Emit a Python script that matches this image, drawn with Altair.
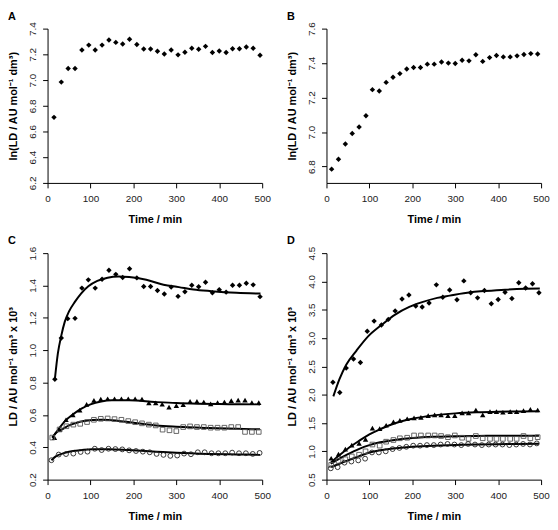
import altair as alt
import pandas as pd

# ---------------- data ----------------
A_time = [15, 32, 48, 64, 80, 96, 111, 127, 143, 159, 175, 191, 208, 224, 240, 256,
          272, 288, 304, 320, 336, 352, 368, 384, 400, 416, 431, 447, 463, 479, 495]
A_ln = [6.71, 6.984, 7.09, 7.09, 7.234, 7.272, 7.234, 7.272, 7.311, 7.293, 7.28, 7.318,
        7.277, 7.242, 7.242, 7.224, 7.203, 7.234, 7.196, 7.216, 7.247, 7.239, 7.262,
        7.214, 7.226, 7.214, 7.244, 7.244, 7.257, 7.247, 7.193]

B_time = [12, 28, 44, 60, 76, 92, 107, 123, 139, 155, 171, 187, 203, 219, 235, 251,
          268, 284, 300, 316, 332, 348, 364, 380, 396, 412, 428, 444, 460, 476, 492]
B_ln = [6.785, 6.842, 6.931, 6.992, 7.029, 7.095, 7.246, 7.238, 7.288, 7.318, 7.339,
        7.366, 7.375, 7.375, 7.394, 7.394, 7.406, 7.40, 7.398, 7.417, 7.413, 7.448,
        7.41, 7.432, 7.444, 7.436, 7.436, 7.442, 7.45, 7.455, 7.453]

# Panel C
C_dia_t = [17, 32, 47, 64, 80, 95, 111, 127, 143, 159, 175, 191, 208, 224, 240, 256,
           272, 288, 304, 320, 336, 352, 368, 384, 400, 416, 431, 447, 463, 479, 495]
C_dia = [0.82, 1.075, 1.195, 1.197, 1.384, 1.435, 1.384, 1.439, 1.494, 1.469, 1.449,
         1.504, 1.447, 1.394, 1.394, 1.369, 1.347, 1.39, 1.333, 1.361, 1.402, 1.392,
         1.42, 1.355, 1.374, 1.359, 1.402, 1.402, 1.414, 1.404, 1.331]
C_tri_t = [16, 28, 43, 59, 75, 91, 108, 124, 140, 156, 172, 188, 204, 220, 236, 252,
           267, 283, 300, 316, 332, 348, 364, 380, 396, 412, 428, 444, 460, 476, 492]
C_tri = [0.46, 0.51, 0.57, 0.60, 0.63, 0.665, 0.69, 0.698, 0.70, 0.70, 0.70, 0.70, 0.70,
         0.698, 0.675, 0.675, 0.666, 0.648, 0.658, 0.664, 0.684, 0.684, 0.68, 0.668,
         0.676, 0.68, 0.688, 0.692, 0.692, 0.676, 0.676]
C_sq_t = [11, 28, 44, 60, 76, 92, 108, 124, 140, 156, 172, 188, 204, 220, 236, 252,
          268, 284, 300, 316, 332, 348, 364, 380, 396, 412, 428, 444, 460, 476, 492]
C_sq = [0.46, 0.51, 0.53, 0.54, 0.545, 0.556, 0.57, 0.576, 0.578, 0.574, 0.57, 0.562,
        0.555, 0.548, 0.54, 0.535, 0.509, 0.505, 0.50, 0.525, 0.529, 0.525, 0.525,
        0.521, 0.521, 0.521, 0.525, 0.525, 0.495, 0.495, 0.495]
C_ci_t = [9, 26, 43, 60, 77, 93, 110, 126, 142, 158, 174, 190, 206, 222, 238, 254,
          270, 286, 302, 318, 334, 350, 366, 382, 398, 414, 430, 446, 462, 478, 494]
C_ci = [0.32, 0.355, 0.358, 0.361, 0.371, 0.373, 0.391, 0.383, 0.391, 0.389, 0.387,
        0.381, 0.377, 0.373, 0.369, 0.359, 0.353, 0.347, 0.349, 0.361, 0.357, 0.369,
        0.369, 0.363, 0.363, 0.363, 0.367, 0.363, 0.363, 0.359, 0.365]

C_fit_dia_t = [17, 24, 32, 40, 50, 64, 78, 95, 116, 140, 165, 190, 230, 270, 306, 340, 382, 440, 496]
C_fit_dia = [0.82, 0.98, 1.09, 1.175, 1.24, 1.30, 1.35, 1.395, 1.428, 1.448, 1.455,
             1.452, 1.435, 1.405, 1.39, 1.375, 1.365, 1.355, 1.35]
C_fit_tri_t = [11, 25, 40, 60, 80, 100, 125, 150, 190, 250, 300, 350, 400, 450, 495]
C_fit_tri = [0.46, 0.51, 0.56, 0.605, 0.64, 0.665, 0.683, 0.69, 0.69, 0.68, 0.673,
             0.669, 0.667, 0.666, 0.665]
C_fit_sq_t = [11, 20, 36, 50, 66, 85, 104, 125, 143, 165, 188, 220, 253, 300, 375, 440, 495]
C_fit_sq = [0.46, 0.49, 0.514, 0.535, 0.55, 0.562, 0.568, 0.57, 0.569, 0.563, 0.556,
            0.545, 0.535, 0.527, 0.519, 0.514, 0.511]
C_fit_ci_t = [9, 20, 36, 50, 66, 85, 104, 143, 188, 253, 300, 375, 440, 495]
C_fit_ci = [0.32, 0.345, 0.362, 0.372, 0.379, 0.385, 0.388, 0.388, 0.383, 0.373,
            0.366, 0.359, 0.356, 0.353]

# Panel D
D_dia_t = [15, 31, 46, 63, 79, 95, 111, 128, 144, 160, 176, 192, 208, 223, 239, 256,
           271, 287, 304, 320, 336, 352, 368, 384, 400, 416, 432, 448, 464, 480, 495]
D_dia = [2.22, 2.04, 2.47, 2.63, 2.57, 3.12, 3.30, 3.23, 3.33, 3.48, 3.69, 3.76, 3.565,
         3.55, 3.62, 3.94, 3.72, 3.85, 3.676, 4.01, 3.80, 3.71, 3.84, 3.606, 3.68, 3.81,
         3.70, 3.977, 3.885, 3.96, 3.80]
D_tri_t = [11, 28, 44, 59, 76, 91, 107, 124, 139, 156, 171, 188, 204, 220, 237, 252,
           267, 283, 299, 316, 331, 348, 364, 381, 396, 411, 428, 443, 459, 475, 492]
D_tri = [0.878, 0.95, 1.04, 1.11, 1.14, 1.21, 1.41, 1.40, 1.46, 1.52, 1.545, 1.575,
         1.59, 1.60, 1.63, 1.645, 1.645, 1.63, 1.63, 1.68, 1.68, 1.73, 1.645, 1.70, 1.70,
         1.69, 1.70, 1.70, 1.72, 1.74, 1.73]
D_sq_t = [11, 28, 44, 59, 76, 91, 107, 124, 139, 156, 171, 188, 204, 220, 237, 252,
          267, 283, 299, 316, 331, 348, 364, 381, 396, 411, 428, 443, 459, 475, 492]
D_sq = [0.76, 0.83, 0.86, 0.91, 0.94, 1.0, 1.12, 1.10, 1.17, 1.20, 1.23, 1.24, 1.28,
        1.28, 1.28, 1.28, 1.27, 1.25, 1.28, 1.24, 1.22, 1.27, 1.23, 1.22, 1.22, 1.22,
        1.22, 1.22, 1.27, 1.23, 1.25]
D_ci_t = [10, 26, 42, 58, 74, 90, 106, 122, 138, 154, 170, 186, 202, 218, 234, 250,
          266, 282, 298, 314, 330, 346, 362, 378, 394, 410, 426, 442, 458, 474, 490]
D_ci = [0.70, 0.72, 0.80, 0.82, 0.84, 0.87, 0.98, 0.98, 1.00, 1.04, 1.06, 1.08, 1.10,
        1.10, 1.11, 1.11, 1.12, 1.13, 1.12, 1.11, 1.13, 1.12, 1.11, 1.12, 1.12, 1.12,
        1.11, 1.12, 1.13, 1.12, 1.14]

D_fit_dia_t = [16, 30, 46, 70, 97, 128, 160, 193, 223, 258, 287, 335, 368, 416, 464, 497]
D_fit_dia = [1.97, 2.27, 2.53, 2.78, 3.03, 3.23, 3.415, 3.55, 3.635, 3.71, 3.75, 3.81,
             3.83, 3.855, 3.87, 3.875]
D_fit_tri_t = [10, 30, 50, 75, 100, 125, 150, 175, 200, 250, 300, 350, 400, 450, 495]
D_fit_tri = [0.80, 0.93, 1.05, 1.18, 1.30, 1.39, 1.47, 1.53, 1.575, 1.635, 1.67, 1.69,
             1.70, 1.705, 1.707]
D_fit_sq_t = [10, 30, 50, 75, 100, 125, 150, 200, 250, 300, 350, 400, 450, 495]
D_fit_sq = [0.78, 0.87, 0.95, 1.04, 1.11, 1.16, 1.19, 1.235, 1.258, 1.268, 1.272,
            1.274, 1.276, 1.277]
D_fit_ci_t = [10, 30, 50, 75, 100, 125, 150, 200, 250, 300, 350, 400, 450, 495]
D_fit_ci = [0.72, 0.78, 0.84, 0.91, 0.98, 1.02, 1.045, 1.08, 1.10, 1.11, 1.12, 1.125,
            1.13, 1.132]

X_TICKS = [0, 100, 200, 300, 400, 500]
A_TICKS = [6.2, 6.4, 6.6, 6.8, 7.0, 7.2, 7.4]
B_TICKS = [6.8, 7.0, 7.2, 7.4, 7.6]
C_TICKS = [0.2, 0.4, 0.6, 0.8, 1.0, 1.2, 1.4, 1.6]
D_TICKS = [0.5, 1.0, 1.5, 2.0, 2.5, 3.0, 3.5, 4.0, 4.5]

LN_TITLE = "ln(LD / AU mol\u207b\u00b9 dm\u00b3)"
LD_TITLE = "LD / AU mol\u207b\u00b9 dm\u00b3 x 10\u00b3"
X_TITLE = "Time / min"

FONT = "Liberation Sans"
W = 217
H1 = 156
H2 = 229


def encs(ydom, yticks, ytitle):
    x = alt.X("t:Q", scale=alt.Scale(domain=[0, 500], nice=False, zero=False),
              axis=alt.Axis(values=X_TICKS, format="d", title=X_TITLE, titlePadding=10,
                            labelPadding=6))
    y = alt.Y("v:Q", scale=alt.Scale(domain=ydom, nice=False, zero=False),
              axis=alt.Axis(values=yticks, format=".1f", labelAngle=270,
                            labelAlign="center", labelBaseline="bottom",
                            labelPadding=5, title=ytitle, titlePadding=9))
    return x, y


def pts(t, v, ydom, yticks, ytitle, shape, filled, size, color, sw=1.0):
    x, y = encs(ydom, yticks, ytitle)
    df = pd.DataFrame({"t": t, "v": v})
    if filled:
        m = alt.Chart(df).mark_point(shape=shape, filled=True, size=size,
                                     color=color, opacity=1)
    else:
        m = alt.Chart(df).mark_point(shape=shape, filled=False, size=size,
                                     stroke=color, strokeWidth=sw, opacity=1)
    return m.encode(x=x, y=y)


def fit(t, v, ydom, yticks, ytitle):
    x, y = encs(ydom, yticks, ytitle)
    df = pd.DataFrame({"t": t, "v": v})
    return alt.Chart(df).mark_line(color="black", strokeWidth=2,
                                   interpolate="monotone").encode(x=x, y=y)


def ttl(s):
    return alt.TitleParams(s, anchor="start", frame="bounds", fontSize=11,
                           fontWeight="bold", font=FONT, offset=0, color="black")


A_dom = [6.2, 7.4]
B_dom = [6.705, 7.6]
C_dom = [0.2, 1.6]
D_dom = [0.5, 4.5]

panelA = alt.layer(
    pts(A_time, A_ln, A_dom, A_TICKS, LN_TITLE, "diamond", True, 30, "black")
).properties(width=W, height=H1, title=ttl("A"))

panelB = alt.layer(
    pts(B_time, B_ln, B_dom, B_TICKS, LN_TITLE, "diamond", True, 30, "black")
).properties(width=W, height=H1, title=ttl("B"))


def four(dom, ticks, fits, sers):
    layers = [fit(t, v, dom, ticks, LD_TITLE) for t, v in fits]
    (t1, v1), (t2, v2), (t3, v3), (t4, v4) = sers
    layers += [
        pts(t1, v1, dom, ticks, LD_TITLE, "diamond", True, 30, "black"),
        pts(t2, v2, dom, ticks, LD_TITLE, "triangle-up", True, 30, "black"),
        pts(t3, v3, dom, ticks, LD_TITLE, "square", False, 22, "#555555", 0.9),
        pts(t4, v4, dom, ticks, LD_TITLE, "circle", False, 24, "#222222", 0.9),
    ]
    return alt.layer(*layers)


panelC = four(
    C_dom, C_TICKS,
    [(C_fit_dia_t, C_fit_dia), (C_fit_tri_t, C_fit_tri),
     (C_fit_sq_t, C_fit_sq), (C_fit_ci_t, C_fit_ci)],
    [(C_dia_t, C_dia), (C_tri_t, C_tri), (C_sq_t, C_sq), (C_ci_t, C_ci)],
).properties(width=W, height=H2, title=ttl("C"))

panelD = four(
    D_dom, D_TICKS,
    [(D_fit_dia_t, D_fit_dia), (D_fit_tri_t, D_fit_tri),
     (D_fit_sq_t, D_fit_sq), (D_fit_ci_t, D_fit_ci)],
    [(D_dia_t, D_dia), (D_tri_t, D_tri), (D_sq_t, D_sq), (D_ci_t, D_ci)],
).properties(width=W, height=H2, title=ttl("D"))

chart = alt.vconcat(
    alt.hconcat(panelA, panelB, spacing=16),
    alt.hconcat(panelC, panelD, spacing=16),
    spacing=11,
).properties(padding=0, background="white").configure_view(
    stroke=None
).configure_axis(
    grid=False, domainColor="black", domainWidth=1, tickColor="black",
    tickSize=5, tickWidth=1, labelFont=FONT, labelFontSize=10, labelColor="#222222",
    titleFont=FONT, titleFontSize=11, titleFontWeight="bold",
    titleColor="black", labelFlush=False, labelOverlap=False
)

chart.save("out.html", embed_options={"renderer": "svg", "actions": False})
